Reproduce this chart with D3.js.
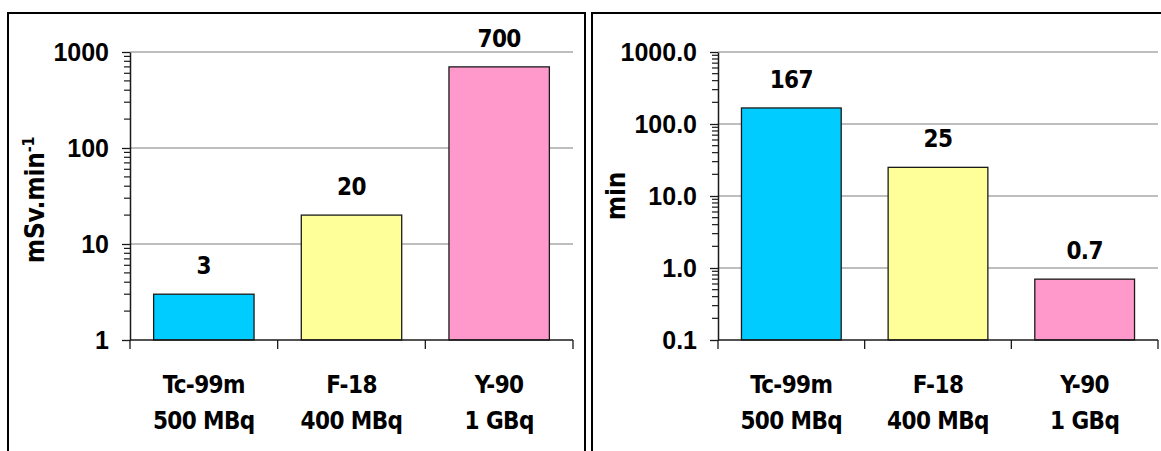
<!DOCTYPE html>
<html>
<head>
<meta charset="utf-8">
<script src="https://cdn.jsdelivr.net/npm/d3@7"></script>
<style>
  html, body { margin: 0; padding: 0; background: #fff; }
  svg { display: block; }
  .tick-label { font-family: "Liberation Sans", Arial, sans-serif; font-weight: bold; font-size: 25px; fill: #000; }
  .txt { font-family: "DejaVu Sans Condensed", "DejaVu Sans", sans-serif; font-stretch: condensed; font-weight: bold; font-size: 24px; letter-spacing: -0.6px; fill: #000; }
  .title { font-size: 26px; letter-spacing: -0.2px; }
</style>
</head>
<body>
<svg id="chart" width="1161" height="451"></svg>
<script>
// Radionuclides and the activities they are handled at
const isotopes = ["Tc-99m", "F-18", "Y-90"];
const activities = ["500 MBq", "400 MBq", "1 GBq"];
const barColors = ["#00ccff", "#ffff99", "#ff99cc"];

// Dose rate at the source (mSv per minute)
const doseRate = [3, 20, 700];
const doseTicks = [1, 10, 100, 1000];

// Time to reach the dose limit (minutes)
const timeMin = [167, 25, 0.7];
const timeTicks = [0.1, 1, 10, 100, 1000];

const svg = d3.select("#chart");

// Panel frames (open at the bottom / right, as cropped)
svg.append("path")
  .attr("d", "M8,451 V13 H585 V451")
  .attr("fill", "none").attr("stroke", "#000").attr("stroke-width", 2);
svg.append("path")
  .attr("d", "M592,451 V13 H1161")
  .attr("fill", "none").attr("stroke", "#000").attr("stroke-width", 2);

function drawPanel(opts) {
  const { x0, x1, yTop, yBottom, values, ticks, fmt, title, titleX, titleY, titleSup } = opts;
  const g = svg.append("g");

  const x = d3.scaleBand().domain(isotopes).range([x0, x1])
    .paddingInner(0.32).paddingOuter(0.16);
  const y = d3.scaleLog().domain([ticks[0], ticks[ticks.length - 1]]).range([yBottom, yTop]);

  // Horizontal gridlines at each decade above the baseline
  g.selectAll("line.grid").data(ticks.slice(1)).join("line")
    .attr("class", "grid")
    .attr("x1", x0).attr("x2", x1)
    .attr("y1", d => y(d)).attr("y2", d => y(d))
    .attr("stroke", "#a9a9a9").attr("stroke-width", 1.5);

  // Bars
  g.selectAll("rect.bar").data(values).join("rect")
    .attr("class", "bar")
    .attr("x", (d, i) => x(isotopes[i]))
    .attr("width", x.bandwidth())
    .attr("y", d => y(d))
    .attr("height", d => yBottom - y(d))
    .attr("fill", (d, i) => barColors[i])
    .attr("stroke", "#1a1a1a").attr("stroke-width", 1.3);

  // Value labels above bars
  g.selectAll("text.val").data(values).join("text")
    .attr("class", "txt")
    .attr("x", (d, i) => x(isotopes[i]) + x.bandwidth() / 2)
    .attr("y", d => y(d) - 20)
    .attr("text-anchor", "middle")
    .text(d => d);

  // Y axis with decade ticks and log minor ticks
  const minor = [];
  for (let k = 0; k < ticks.length - 1; k++) {
    for (let m = 2; m <= 9; m++) minor.push(ticks[k] * m);
  }
  const yAxis = g.append("g")
    .attr("transform", `translate(${x0},0)`)
    .call(d3.axisLeft(y).tickValues(ticks).tickFormat("").tickSize(8).tickSizeOuter(0));
  yAxis.select(".domain").attr("stroke", "#1a1a1a").attr("stroke-width", 1.5);
  yAxis.selectAll(".tick line").attr("stroke", "#1a1a1a").attr("stroke-width", 1.3);
  g.selectAll("line.minor").data(minor).join("line")
    .attr("class", "minor")
    .attr("x1", x0 - 6).attr("x2", x0)
    .attr("y1", d => y(d)).attr("y2", d => y(d))
    .attr("stroke", "#1a1a1a").attr("stroke-width", 1.2);

  g.selectAll("text.ytick").data(ticks).join("text")
    .attr("class", "tick-label")
    .attr("x", x0 - 21)
    .attr("y", d => y(d))
    .attr("dy", "0.36em")
    .attr("text-anchor", "end")
    .text(d => fmt(d));

  // X axis baseline with ticks at category boundaries
  g.append("line")
    .attr("x1", x0).attr("x2", x1).attr("y1", yBottom).attr("y2", yBottom)
    .attr("stroke", "#1a1a1a").attr("stroke-width", 1.5);
  const bounds = [x0].concat(isotopes.map(c => x(c) + x.bandwidth() + x.step() * x.paddingInner() / 2));
  g.selectAll("line.xtick").data(bounds).join("line")
    .attr("x1", d => d).attr("x2", d => d)
    .attr("y1", yBottom).attr("y2", yBottom + 9)
    .attr("stroke", "#1a1a1a").attr("stroke-width", 1.3);

  // Category labels (two lines)
  const cat = g.selectAll("text.cat").data(isotopes).join("text")
    .attr("class", "txt")
    .attr("text-anchor", "middle")
    .attr("x", c => x(c) + x.bandwidth() / 2)
    .attr("y", yBottom + 53);
  cat.append("tspan").text(c => c);
  cat.append("tspan")
    .attr("x", c => x(c) + x.bandwidth() / 2)
    .attr("dy", 36)
    .text((c, i) => activities[i]);

  // Y axis title
  const t = g.append("text")
    .attr("class", "txt title")
    .attr("text-anchor", "middle")
    .attr("transform", `translate(${titleX},${titleY}) rotate(-90)`)
    .text(title);
  if (titleSup) {
    t.append("tspan").attr("dy", -10).attr("font-size", 16).text(titleSup);
  }
}

drawPanel({
  x0: 130, x1: 573, yTop: 52, yBottom: 340,
  values: doseRate, ticks: doseTicks, fmt: d3.format("d"),
  title: "mSv.min", titleSup: "-1", titleX: 44, titleY: 200
});

drawPanel({
  x0: 718, x1: 1158, yTop: 52, yBottom: 340,
  values: timeMin, ticks: timeTicks, fmt: d3.format(".1f"),
  title: "min", titleX: 625, titleY: 196
});
</script>
</body>
</html>
